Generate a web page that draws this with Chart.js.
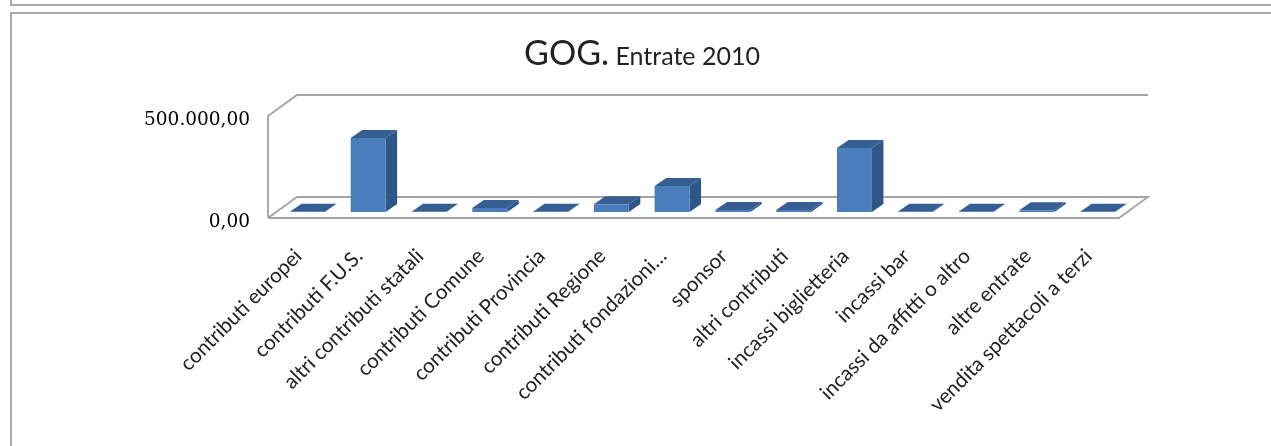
<!DOCTYPE html>
<html>
<head>
<meta charset="utf-8">
<script src="https://cdn.jsdelivr.net/npm/chart.js@4"></script>
<style>
html,body{margin:0;padding:0;background:#fff;overflow:hidden}
#wrap{position:relative;width:1271px;height:446px}
canvas{position:absolute;left:0;top:0}
.f{position:absolute;background:#aaa}
</style>
</head>
<body>
<div id="wrap">
<canvas id="c" width="1271" height="446"></canvas>
<div class="f" style="left:10px;top:0;width:2px;height:6px"></div>
<div class="f" style="left:10px;top:4px;width:1261px;height:2px"></div>
<div class="f" style="left:10px;top:12px;width:1261px;height:2px"></div>
<div class="f" style="left:10px;top:12px;width:2px;height:434px"></div>
</div>
<script>
const categories = ["contributi europei","contributi F.U.S.","altri contributi statali","contributi Comune","contributi Provincia","contributi Regione","contributi fondazioni…","sponsor","altri contributi","incassi biglietteria","incassi bar","incassi da affitti o altro","altre entrate","vendita spettacoli a terzi"];
const values = [1000,363000,1000,20000,1000,38000,127000,10000,10000,314000,1000,1000,8000,1000];
const yTickValues = [0,500000];
const yTickLabels = ["0,00","500.000,00"];
const titleMain = "GOG.";
const titleSub = " Entrate 2010";

const DEPTH_X = 29, DEPTH_Y = 21;      // wall depth
const BAR_SHIFT_X = 9, BAR_SHIFT_Y = 6; // bars stand inside the floor
const BAR_DX = 11.5, BAR_DY = 8;        // bar own depth
const Y_LABEL_SHIFT = 4;

const threeD = {
  id: 'threeD',
  beforeDatasetsDraw(chart) {
    const {ctx, chartArea: a} = chart;
    ctx.save();
    ctx.strokeStyle = '#a3a3a3';
    ctx.lineWidth = 1.8;
    ctx.beginPath();
    ctx.moveTo(a.left, a.bottom); ctx.lineTo(a.left, a.top);
    ctx.lineTo(a.left + DEPTH_X, a.top - DEPTH_Y); ctx.lineTo(a.right + DEPTH_X, a.top - DEPTH_Y);
    ctx.moveTo(a.left, a.bottom); ctx.lineTo(a.right, a.bottom);
    ctx.lineTo(a.right + DEPTH_X, a.bottom - DEPTH_Y); ctx.lineTo(a.left + DEPTH_X, a.bottom - DEPTH_Y);
    ctx.lineTo(a.left, a.bottom);
    ctx.stroke();
    ctx.restore();

    ctx.save();
    ctx.translate(BAR_SHIFT_X, -BAR_SHIFT_Y);
    chart.getDatasetMeta(0).data.forEach(b => {
      const {x, y, base, width} = b.getProps(['x','y','base','width'], true);
      const l = x - width / 2, r = x + width / 2;
      ctx.fillStyle = '#2f5687';
      ctx.beginPath();
      ctx.moveTo(r, y); ctx.lineTo(r + BAR_DX, y - BAR_DY);
      ctx.lineTo(r + BAR_DX, base - BAR_DY); ctx.lineTo(r, base);
      ctx.closePath(); ctx.fill();
      ctx.fillStyle = '#355f92';
      ctx.beginPath();
      ctx.moveTo(l, y); ctx.lineTo(l + BAR_DX, y - BAR_DY);
      ctx.lineTo(r + BAR_DX, y - BAR_DY); ctx.lineTo(r, y);
      ctx.closePath(); ctx.fill();
    });
    // remains translated for the library's own bars
  },
  afterDatasetsDraw(chart) {
    chart.ctx.restore();
  },
  afterDraw(chart) {
    const ctx = chart.ctx;
    ctx.save();
    ctx.fillStyle = '#222';
    ctx.textBaseline = 'alphabetic';
    ctx.textAlign = 'left';
    ctx.font = '34px Lato';
    const w1 = ctx.measureText(titleMain).width;
    ctx.font = '25px Lato';
    const w2 = ctx.measureText(titleSub).width;
    const x0 = 642 - (w1 + w2) / 2;
    ctx.font = '34px Lato';
    ctx.fillText(titleMain, x0, 65);
    ctx.font = '25px Lato';
    ctx.fillText(titleSub, x0 + w1, 65);
    ctx.restore();
  }
};

new Chart(document.getElementById('c'), {
  type: 'bar',
  data: {
    labels: categories,
    datasets: [{
      data: values,
      backgroundColor: '#4a7dbb',
      borderWidth: 0,
      barPercentage: 1,
      categoryPercentage: 0.575
    }]
  },
  plugins: [threeD],
  options: {
    responsive: false,
    animation: false,
    layout: {padding: {top: 116, right: 152, left: 0, bottom: 0}},
    plugins: {legend: {display: false}, title: {display: false}, tooltip: {enabled: false}},
    scales: {
      x: {
        grid: {display: false, drawBorder: false},
        border: {display: false},
        afterFit(s) { s.height = 228; },
        ticks: {
          autoSkip: false, minRotation: 45, maxRotation: 45, padding: 18,
          color: '#222', font: {family: 'Lato', size: 20.6}
        }
      },
      y: {
        min: 0, max: 500000,
        grid: {display: false},
        border: {display: false},
        afterFit(s) {
          s.width = 268;
          if (!s.shiftedLabels) {
            s.shiftedLabels = true;
            const draw = s.drawLabels.bind(s);
            s.drawLabels = area => {
              s.ctx.save();
              s.ctx.translate(0, Y_LABEL_SHIFT);
              draw(area);
              s.ctx.restore();
            };
          }
        },
        afterBuildTicks(s) { s.ticks = yTickValues.map(v => ({value: v})); },
        ticks: {
          padding: 10,
          color: '#000',
          font: {family: 'DejaVu Serif', size: 18.5},
          callback: v => yTickLabels[yTickValues.indexOf(v)]
        }
      }
    }
  }
});
</script>
</body>
</html>
